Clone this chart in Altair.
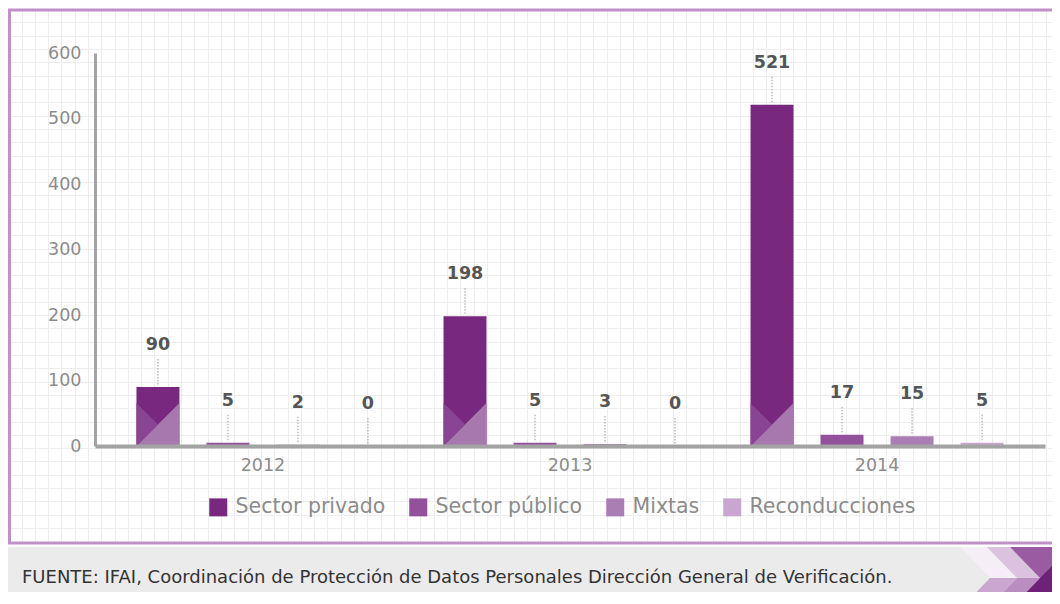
import altair as alt
import pandas as pd

# ---------------- data ----------------
years = ["2012", "2013", "2014"]
series = ["Sector privado", "Sector público", "Mixtas", "Reconducciones"]
privado = [90, 198, 521]
publico = [5, 5, 17]
mixtas = [2, 3, 15]
reconducciones = [0, 0, 5]
y_ticks = [0, 100, 200, 300, 400, 500, 600]
source_note = "FUENTE:  IFAI, Coordinación de Protección de Datos Personales Dirección General de Verificación."

colors = ["#78287f", "#93519b", "#aa7db4", "#c9a6cf"]

rows = []
for vals, s in zip([privado, publico, mixtas, reconducciones], series):
    for yr, v in zip(years, vals):
        rows.append({"year": yr, "series": s, "value": v})
df = pd.DataFrame(rows)

# ---------------- layout ----------------
W, H = 950, 393          # plot area
LEFT, TOP = 87, 45       # plot origin inside the svg
TOTAL_W, TOTAL_H = 1044, 584
FONT = "DejaVu Sans"

def P(x, y):
    """page coords -> svg path coords"""
    return f"{x - 8:.1f} {y - 8:.1f}"

one = pd.DataFrame({"k": [0]})

def deco(path, fill=None, stroke=None, sw=1):
    if fill is not None:
        m = alt.Chart(one).mark_point(shape=path, size=4, filled=True, fill=fill,
                                      strokeWidth=0, opacity=1)
    else:
        m = alt.Chart(one).mark_point(shape=path, size=4, filled=False, stroke=stroke,
                                      strokeWidth=sw, opacity=1)
    return m.encode(x=alt.value(-LEFT), y=alt.value(-TOP))

# footer band
footer = deco("M " + P(8, 547) + " L " + P(1060, 547) + " L " + P(1060, 610) + " L " + P(8, 610) + " Z",
              fill="#ebebeb")

# background grid inside frame
gparts = []
step = 13.3
k = 0
while 21.5 + step * k < 1052:
    x = round(21.5 + step * k) + 0.5
    gparts.append("M " + P(x, 10) + " L " + P(x, 542))
    k += 1
k = 0
while 22.5 + step * k < 541:
    y = round(22.5 + step * k) + 0.5
    gparts.append("M " + P(9, y) + " L " + P(1060, y))
    k += 1
grid = deco(" ".join(gparts), stroke="#ededed", sw=1)

# frame
frame = deco("M " + P(1070, 10) + " L " + P(9.5, 10) + " L " + P(9.5, 543) + " L " + P(1070, 543),
             stroke="#c290c9", sw=3)

# chevron ornament in footer
chev = [
    ([(960, 547), (987, 547), (1017, 578), (990, 578)], "#f5eef6"),
    ([(987, 547), (1010, 547), (1040, 578), (1017, 578)], "#dbc2df"),
    ([(1010, 547), (1062, 547), (1062, 578), (1040, 578)], "#9b5ba3"),
    ([(990, 578), (1017, 578), (991, 605), (964, 605)], "#c9a7ce"),
    ([(1017, 578), (1040, 578), (1014, 605), (991, 605)], "#ba8dc1"),
    ([(1040, 578), (1062, 556), (1062, 605), (1014, 605)], "#6d2277"),
]
chev_layers = []
for pts, c in chev:
    path = "M " + " L ".join(P(a, b) for a, b in pts) + " Z"
    chev_layers.append(deco(path, fill=c))

# ---------------- chart ----------------
x_enc = alt.X("year:N", sort=years, title=None,
              scale=alt.Scale(paddingInner=0, paddingOuter=0.047),
              axis=alt.Axis(labelAngle=0, labelFontSize=17.5, labelColor="#8c8c8c",
                            labelFont=FONT, labelPadding=10, ticks=False, zindex=1,
                            domainColor="#a3a3a3", domainWidth=4, grid=False))
xo_enc = alt.XOffset("series:N", sort=series,
                     scale=alt.Scale(paddingInner=0.386, paddingOuter=0.386))
y_enc = alt.Y("value:Q", title=None,
              scale=alt.Scale(domain=[0, 600], nice=False),
              axis=alt.Axis(values=y_ticks, labelFontSize=17.5, labelColor="#8c8c8c",
                            labelFont=FONT, labelPadding=14, ticks=False, zindex=1,
                            domainColor="#a3a3a3", domainWidth=3, grid=False))
color_enc = alt.Color("series:N", sort=series,
                      scale=alt.Scale(domain=series, range=colors),
                      legend=alt.Legend(orient="none", legendX=113, legendY=444,
                                        direction="horizontal", title=None,
                                        symbolType="square", symbolSize=324,
                                        symbolStrokeWidth=0, symbolOpacity=1,
                                        labelFontSize=20.5, labelColor="#8c8c8c",
                                        labelFont=FONT, labelOffset=7, labelLimit=400,
                                        columnPadding=22, zindex=1))

base = alt.Chart(df).encode(x=x_enc, xOffset=xo_enc)

bars = base.mark_bar().encode(y=y_enc, color=color_enc)

priv = base.transform_filter(alt.datum.series == "Sector privado").transform_calculate(zero="0")
tri_light = priv.mark_point(shape="M -1 1 L 1 1 L 1 -1 Z", size=43 * 43, filled=True,
                            fill="#a678ae", strokeWidth=0, opacity=1, yOffset=-21.5
                            ).encode(y=alt.Y("zero:Q"))
tri_mid = priv.mark_point(shape="M -1 -1 L 0 0 L -1 1 Z", size=43 * 43, filled=True,
                          fill="#8a4494", strokeWidth=0, opacity=1, yOffset=-21.5
                          ).encode(y=alt.Y("zero:Q"))

rules = base.mark_rule(color="#9a9a9a", strokeDash=[1.5, 1.5], strokeWidth=1,
                       yOffset=-28, y2Offset=-2).encode(y=alt.Y("value:Q"), y2=alt.Y2("value"))

labels = base.mark_text(font=FONT, fontWeight="bold", fontSize=17.5, color="#555555",
                        dy=-42, baseline="middle").encode(y=alt.Y("value:Q"), text="value:Q")

note = alt.Chart(one).mark_text(text=source_note, font=FONT, fontSize=18, color="#333333",
                                align="left", baseline="middle").encode(
    x=alt.value(22 - 8 - LEFT), y=alt.value(578 - 8 - TOP))

chart = alt.layer(footer, grid, frame, *chev_layers, bars, tri_light, tri_mid, rules, labels, note
                  ).properties(
    width=W, height=H,
    autosize=alt.AutoSizeParams(type="none"),
    padding={"left": LEFT, "top": TOP, "right": TOTAL_W - LEFT - W, "bottom": TOTAL_H - TOP - H},
    background="white",
).configure_view(stroke=None)

chart.save("out.html", embed_options={"renderer": "svg", "actions": False})
